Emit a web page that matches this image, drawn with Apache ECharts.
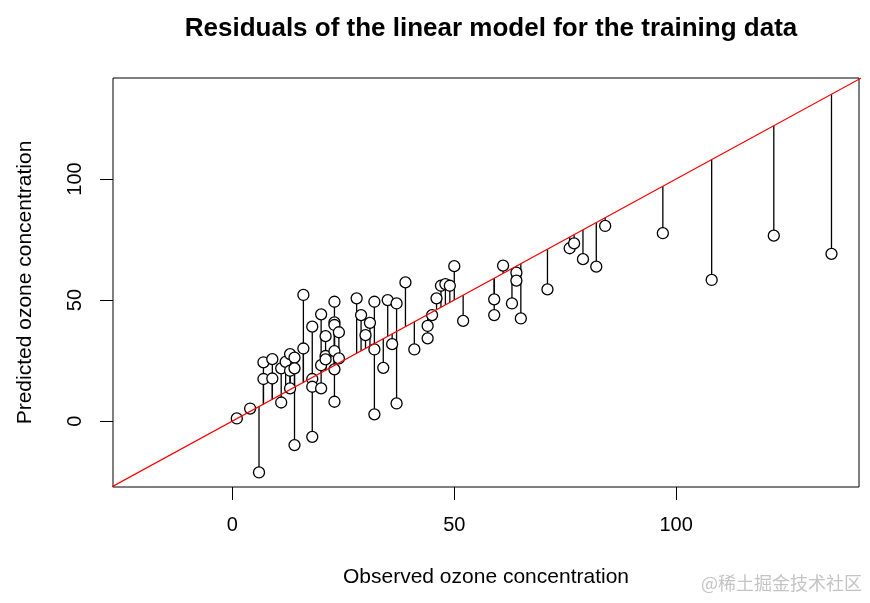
<!DOCTYPE html>
<html>
<head>
<meta charset="utf-8">
<script src="https://cdn.jsdelivr.net/npm/echarts@6/dist/echarts.min.js"></script>
<style>
html,body{margin:0;padding:0;background:#fff;}
#chart{width:870px;height:603px;}
</style>
</head>
<body>
<div id="chart"></div>
<script>
const observed = [1,4,6,7,7,9,9,11,11,12,13,13,13,14,14,14,16,16,18,18,18,18,20,20,20,21,21,21,23,23,23,23,23,23,24,24,28,29,30,31,32,32,32,34,35,36,37,37,39,41,44,44,45,46,47,48,49,50,52,59,59,61,63,64,64,65,71,76,77,79,82,84,97,108,122,135];
const predicted = [1.1,5.2,-21.2,17.4,24.3,25.6,17.6,7.7,21.8,24.5,27.7,20.8,13.5,26.2,21.8,-9.9,52.1,30,39,17.4,14.2,-6.5,44.1,23.1,13.5,35.1,26.9,25.5,49.3,40.8,39.7,28.9,21.4,8.0,36.7,25.9,50.7,43.8,35.5,40.6,49.3,29.6,2.8,22.0,50.0,31.8,48.6,7.3,57.3,29.6,39.3,34.2,43.8,50.7,55.9,56.6,55.9,64.0,41.4,50.3,43.8,64.2,48.6,61.3,58.0,42.4,54.4,71.4,73.4,66.9,63.8,80.6,77.6,58.3,76.6,69.1];
const xTicks = [0, 50, 100];
const yTicks = [0, 50, 100];
const identityLine = [[-40, -40], [160, 160]];
const titleText = 'Residuals of the linear model for the training data';
const xName = 'Observed ozone concentration';
const yName = 'Predicted ozone concentration';
const watermark = '@稀土掘金技术社区';

const points = observed.map((o, i) => [o, predicted[i]]);
const FONT = 'Liberation Sans, Arial, Helvetica, sans-serif';

const chart = echarts.init(document.getElementById('chart'), null, {renderer: 'canvas'});
chart.setOption({
  animation: false,
  backgroundColor: '#fff',
  title: {
    text: titleText,
    left: 486, top: 11, textAlign: 'center',
    textStyle: {fontFamily: FONT, fontSize: 26, fontWeight: 'bold', color: '#000'}
  },
  graphic: [{
    type: 'text', right: 8, top: 574,
    style: {text: watermark, fontSize: 18, fill: '#c4c4c4', fontFamily: 'Noto Sans CJK SC, sans-serif'}
  }],
  grid: {
    left: 113, right: 11, top: 78, bottom: 116,
    show: true, borderColor: '#000', borderWidth: 1, backgroundColor: 'transparent'
  },
  xAxis: {
    type: 'value', min: -26.9, max: 141.2,
    name: xName, nameLocation: 'middle', nameGap: 80,
    nameTextStyle: {fontFamily: FONT, fontSize: 21, color: '#000'},
    axisLine: {show: false, onZero: false},
    splitLine: {show: false},
    axisTick: {show: true, length: 13, lineStyle: {color: '#000', width: 1}, customValues: xTicks},
    axisLabel: {fontFamily: FONT, fontSize: 20, color: '#000', margin: 28, customValues: xTicks}
  },
  yAxis: {
    type: 'value', min: -27.2, max: 141.7,
    name: yName, nameLocation: 'middle', nameGap: 77, nameRotate: 90,
    nameTextStyle: {fontFamily: FONT, fontSize: 21, color: '#000'},
    axisLine: {show: false, onZero: false},
    splitLine: {show: false},
    axisTick: {show: true, length: 13, lineStyle: {color: '#000', width: 1}, customValues: yTicks},
    axisLabel: {fontFamily: FONT, fontSize: 20, color: '#000', margin: 28, rotate: 90, customValues: yTicks}
  },
  series: [
    {
      type: 'custom', z: 1,
      data: points,
      encode: {x: 0, y: 1},
      renderItem: function (params, api) {
        const p1 = api.coord([api.value(0), api.value(1)]);
        const p2 = api.coord([api.value(0), api.value(0)]);
        return {type: 'line', shape: {x1: p1[0], y1: p1[1], x2: p2[0], y2: p2[1]},
                style: {stroke: '#000', lineWidth: 1.3}};
      }
    },
    {
      type: 'scatter', z: 2,
      data: points,
      symbol: 'circle', symbolSize: 11,
      itemStyle: {color: '#fff', borderColor: '#000', borderWidth: 1.3, opacity: 1}
    },
    {
      type: 'line', z: 3,
      data: identityLine,
      showSymbol: false, clip: true,
      lineStyle: {color: '#ff0000', width: 1.3}
    }
  ]
});
</script>
</body>
</html>
